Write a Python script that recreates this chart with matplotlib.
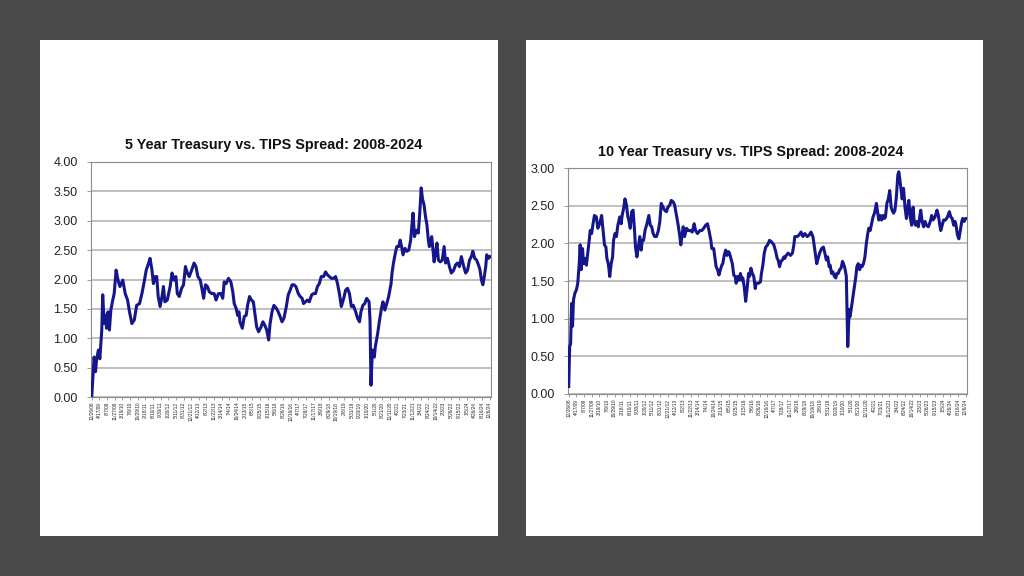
import matplotlib
matplotlib.use("Agg")
import matplotlib.pyplot as plt
from matplotlib.patches import Rectangle

plt.rcParams['font.family'] = ['Liberation Sans', 'DejaVu Sans']

# Category labels (every 16th weekly observation)
tick_labels = ["12/26/08", "4/17/09", "8/7/09", "11/27/09", "3/19/10", "7/9/10", "10/29/10",
               "2/18/11", "6/10/11", "9/30/11", "1/20/12", "5/11/12", "8/31/12", "12/21/12",
               "4/12/13", "8/2/13", "11/22/13", "3/14/14", "7/4/14", "10/24/14", "2/13/15",
               "6/5/15", "9/25/15", "1/15/16", "5/6/16", "8/26/16", "12/16/16", "4/7/17",
               "7/28/17", "11/17/17", "3/9/18", "6/29/18", "10/19/18", "2/8/19", "5/31/19",
               "9/20/19", "1/10/20", "5/1/20", "8/21/20", "12/11/20", "4/2/21", "7/23/21",
               "11/12/21", "3/4/22", "6/24/22", "10/14/22", "2/3/23", "5/26/23", "9/15/23",
               "1/5/24", "4/26/24", "8/16/24", "12/6/24"]

# 5-year spread: week index since 12/26/08 and value
weeks_5y = [0, 5, 8, 10, 14, 17, 21, 23, 26, 29, 31, 34, 37, 40, 44, 47, 51, 55, 59, 65,
            70, 75, 79, 84, 89, 94, 100, 105, 109, 114, 119, 122, 126, 129, 133, 136, 139, 143, 147, 150,
            153, 158, 164, 168, 172, 176, 179, 183, 188, 192, 196, 200, 204, 209, 214, 218, 222, 227, 231, 234,
            238, 242, 246, 251, 256, 260, 265, 270, 274, 277, 281, 286, 291, 295, 298, 302, 305, 308, 310, 315,
            319, 323, 326, 330, 334, 338, 342, 345, 349, 354, 358, 362, 366, 370, 373, 377, 381, 386, 390, 394,
            398, 402, 407, 411, 415, 419, 423, 427, 432, 436, 440, 443, 447, 451, 455, 460, 464, 468, 472, 476,
            480, 485, 489, 493, 497, 501, 506, 510, 514, 518, 522, 527, 531, 535, 539, 543, 547, 552, 556, 560,
            563, 567, 571, 575, 580, 582, 584, 587, 591, 593, 598, 602, 606, 609, 613, 617, 621, 626, 628, 631,
            635, 638, 642, 645, 648, 651, 655, 659, 663, 667, 670, 672, 675, 679, 683, 686, 689, 692, 695, 698,
            701, 704, 706, 711, 713, 716, 719, 722, 725, 729, 733, 737, 740, 744, 748, 752, 757, 761, 765, 769,
            773, 778, 782, 786, 790, 794, 797, 801, 805, 810, 812, 815, 818, 821, 824, 826, 830, 833]
spread_5y = [0.00, 0.68, 0.43, 0.63, 0.80, 0.65, 1.14, 1.74, 1.25, 1.39, 1.17, 1.45, 1.14, 1.48, 1.65, 1.76, 2.16, 1.99, 1.88, 1.99,
             1.76, 1.65, 1.45, 1.25, 1.31, 1.56, 1.59, 1.76, 1.93, 2.16, 2.28, 2.36, 2.16, 1.93, 2.05, 2.05, 1.71, 1.54, 1.71, 1.88,
             1.62, 1.65, 1.88, 2.11, 1.99, 2.05, 1.76, 1.71, 1.85, 1.91, 2.22, 2.11, 2.05, 2.16, 2.28, 2.22, 2.05, 1.99, 1.82, 1.68,
             1.91, 1.88, 1.79, 1.76, 1.76, 1.65, 1.76, 1.76, 1.68, 1.96, 1.93, 2.02, 1.96, 1.79, 1.59, 1.51, 1.39, 1.45, 1.28, 1.17,
             1.37, 1.39, 1.56, 1.71, 1.65, 1.62, 1.37, 1.19, 1.11, 1.19, 1.28, 1.22, 1.14, 0.97, 1.25, 1.45, 1.56, 1.51, 1.45, 1.37,
             1.28, 1.34, 1.54, 1.74, 1.82, 1.91, 1.91, 1.88, 1.76, 1.71, 1.68, 1.59, 1.62, 1.65, 1.62, 1.74, 1.76, 1.76, 1.88, 1.93,
             2.05, 2.05, 2.13, 2.08, 2.05, 2.02, 2.02, 2.05, 1.93, 1.76, 1.54, 1.68, 1.82, 1.85, 1.76, 1.54, 1.56, 1.45, 1.34, 1.28,
             1.45, 1.56, 1.59, 1.68, 1.62, 1.31, 0.20, 0.80, 0.68, 0.85, 1.08, 1.31, 1.51, 1.62, 1.48, 1.59, 1.71, 1.93, 2.11, 2.28,
             2.45, 2.56, 2.56, 2.67, 2.56, 2.42, 2.53, 2.48, 2.50, 2.67, 2.96, 3.13, 2.73, 2.84, 2.79, 3.13, 3.56, 3.36, 3.27, 3.07,
             2.93, 2.67, 2.56, 2.73, 2.56, 2.30, 2.45, 2.62, 2.33, 2.30, 2.33, 2.56, 2.28, 2.36, 2.22, 2.11, 2.16, 2.25, 2.28, 2.22,
             2.39, 2.22, 2.11, 2.16, 2.33, 2.39, 2.48, 2.36, 2.33, 2.22, 2.16, 1.99, 1.91, 2.05, 2.22, 2.42, 2.36, 2.39]

# 10-year spread
weeks_10y = [0, 2, 4, 6, 8, 10, 13, 16, 19, 22, 24, 26, 29, 31, 34, 37, 40, 43, 45, 48,
             51, 54, 58, 61, 65, 69, 72, 75, 78, 80, 83, 86, 89, 92, 94, 97, 100, 103, 107, 110,
             112, 115, 118, 121, 124, 126, 129, 132, 135, 138, 140, 143, 146, 149, 152, 154, 157, 160, 164, 168,
             171, 174, 177, 180, 184, 188, 191, 194, 198, 201, 205, 208, 212, 215, 219, 222, 226, 229, 233, 235,
             238, 240, 243, 247, 251, 255, 259, 263, 266, 270, 275, 279, 283, 287, 291, 294, 298, 300, 304, 307,
             309, 312, 315, 318, 321, 323, 326, 329, 332, 335, 337, 340, 343, 346, 349, 351, 354, 357, 360, 363,
             365, 368, 371, 374, 377, 379, 382, 385, 388, 391, 393, 398, 402, 404, 407, 410, 413, 417, 421, 425,
             430, 434, 437, 439, 442, 445, 448, 451, 453, 456, 460, 465, 469, 472, 474, 479, 483, 487, 491, 495,
             500, 504, 508, 512, 515, 518, 520, 523, 526, 530, 534, 537, 540, 543, 546, 548, 551, 554, 557, 560,
             562, 565, 568, 571, 574, 576, 579, 582, 584, 585, 588, 590, 593, 596, 599, 602, 604, 607, 610, 613,
             615, 618, 621, 624, 627, 629, 632, 635, 638, 641, 643, 645, 648, 650, 653, 656, 659, 662, 664, 667,
             670, 673, 676, 678, 681, 684, 687, 690, 692, 694, 697, 699, 702, 705, 708, 710, 713, 716, 719, 722,
             724, 727, 730, 733, 736, 738, 741, 744, 747, 750, 754, 758, 761, 764, 768, 772, 775, 778, 780, 783,
             786, 790, 794, 798, 801, 804, 807, 810, 812, 815, 818, 821, 824, 826, 829, 832, 835]
spread_10y = [0.10, 0.63, 0.67, 1.20, 0.90, 1.25, 1.34, 1.38, 1.47, 1.73, 1.98, 1.65, 1.93, 1.73, 1.80, 1.71, 1.87, 2.04, 2.17, 2.13,
              2.26, 2.37, 2.35, 2.20, 2.26, 2.37, 2.17, 1.98, 1.95, 1.80, 1.73, 1.56, 1.73, 1.82, 2.04, 2.13, 2.09, 2.24, 2.35, 2.26,
              2.37, 2.46, 2.59, 2.51, 2.35, 2.31, 2.20, 2.42, 2.44, 2.17, 1.95, 1.82, 1.95, 2.09, 1.91, 2.04, 2.04, 2.17, 2.26, 2.37,
              2.24, 2.22, 2.13, 2.09, 2.09, 2.17, 2.29, 2.53, 2.48, 2.44, 2.42, 2.48, 2.51, 2.57, 2.55, 2.51, 2.37, 2.26, 2.09, 1.98,
              2.13, 2.22, 2.09, 2.20, 2.17, 2.17, 2.15, 2.26, 2.17, 2.13, 2.17, 2.17, 2.20, 2.24, 2.26, 2.17, 2.04, 1.93, 1.93, 1.78,
              1.69, 1.65, 1.58, 1.65, 1.71, 1.73, 1.84, 1.91, 1.84, 1.89, 1.87, 1.80, 1.73, 1.58, 1.56, 1.47, 1.56, 1.51, 1.60, 1.51,
              1.54, 1.42, 1.23, 1.40, 1.60, 1.56, 1.67, 1.60, 1.56, 1.40, 1.47, 1.47, 1.49, 1.60, 1.71, 1.87, 1.95, 1.98, 2.04, 2.02,
              1.98, 1.89, 1.80, 1.78, 1.69, 1.76, 1.78, 1.82, 1.80, 1.84, 1.87, 1.84, 1.87, 1.98, 2.09, 2.09, 2.11, 2.15, 2.09, 2.13,
              2.09, 2.11, 2.15, 2.09, 1.95, 1.82, 1.73, 1.80, 1.87, 1.93, 1.95, 1.87, 1.78, 1.82, 1.69, 1.71, 1.60, 1.62, 1.56, 1.54,
              1.60, 1.60, 1.65, 1.67, 1.76, 1.73, 1.67, 1.56, 0.98, 0.63, 1.12, 1.03, 1.16, 1.29, 1.42, 1.56, 1.69, 1.73, 1.65, 1.71,
              1.69, 1.73, 1.82, 2.00, 2.13, 2.20, 2.17, 2.26, 2.35, 2.40, 2.46, 2.53, 2.40, 2.31, 2.37, 2.31, 2.37, 2.33, 2.35, 2.53,
              2.59, 2.70, 2.48, 2.44, 2.40, 2.44, 2.62, 2.91, 2.95, 2.86, 2.70, 2.59, 2.73, 2.48, 2.33, 2.44, 2.57, 2.35, 2.24, 2.48,
              2.31, 2.24, 2.29, 2.22, 2.35, 2.44, 2.29, 2.22, 2.29, 2.24, 2.22, 2.29, 2.37, 2.31, 2.35, 2.44, 2.37, 2.24, 2.17, 2.24,
              2.31, 2.31, 2.35, 2.42, 2.35, 2.33, 2.24, 2.29, 2.24, 2.11, 2.06, 2.17, 2.29, 2.33, 2.29, 2.33, 2.33]

titles = ["5 Year Treasury vs. TIPS Spread: 2008-2024",
          "10 Year Treasury vs. TIPS Spread: 2008-2024"]
y_ticks_5y = [0.0, 0.5, 1.0, 1.5, 2.0, 2.5, 3.0, 3.5, 4.0]
y_ticks_10y = [0.0, 0.5, 1.0, 1.5, 2.0, 2.5, 3.0]

W, H = 1024, 576
fig = plt.figure(figsize=(W / 100, H / 100), dpi=100)
fig.patch.set_facecolor('#4a4a4a')

def fx(px):
    return px / W

def fy(py):
    return 1 - py / H

# white panels
for (x0, y0, x1, y1) in [(40, 40, 498, 536), (526, 40, 983, 536)]:
    fig.add_artist(Rectangle((fx(x0), fy(y1)), fx(x1) - fx(x0), fy(y0) - fy(y1),
                             transform=fig.transFigure, facecolor='white', edgecolor='none', zorder=0))

line_color = '#16168c'
grid_color = '#b4b4b4'
spine_color = '#8c8c8c'

panels = [
    dict(box=(91, 162, 491, 397), weeks=weeks_5y, vals=spread_5y, yticks=y_ticks_5y,
         ylim=(0, 4.0), title=titles[0], tpos=(274, 145)),
    dict(box=(568, 168, 967, 394), weeks=weeks_10y, vals=spread_10y, yticks=y_ticks_10y,
         ylim=(0, 3.0), title=titles[1], tpos=(751, 152)),
]

tick_pos = [i * 16 for i in range(len(tick_labels))]

for p in panels:
    x0, y0, x1, y1 = p['box']
    ax = fig.add_axes([fx(x0), fy(y1), fx(x1) - fx(x0), fy(y0) - fy(y1)])
    ax.set_facecolor('white')
    ax.plot(p['weeks'], p['vals'], color=line_color, lw=2.2, solid_joinstyle='round', zorder=3)
    ax.set_xlim(-1.5, 835)
    ax.set_ylim(*p['ylim'])
    ax.set_yticks(p['yticks'])
    ax.set_yticklabels([f"{v:.2f}" for v in p['yticks']], fontsize=9, color='#222222')
    ax.set_xticks(tick_pos)
    ax.set_xticklabels(tick_labels, rotation=90, fontsize=3.4, color='#222222')
    ax.tick_params(axis='x', length=2.5, width=0.6, color=spine_color, pad=1)
    ax.tick_params(axis='y', length=3, width=0.6, color=spine_color, pad=6.5)
    ax.grid(axis='y', color=grid_color, lw=1.2, zorder=1)
    ax.set_axisbelow(True)
    for s in ax.spines.values():
        s.set_color(spine_color)
        s.set_linewidth(0.8)
    fig.text(fx(p['tpos'][0]), fy(p['tpos'][1]), p['title'], ha='center', va='center',
             fontsize=10.4, fontweight='bold', color='#111111')

fig.savefig('out.png', dpi=100, facecolor=fig.get_facecolor())
